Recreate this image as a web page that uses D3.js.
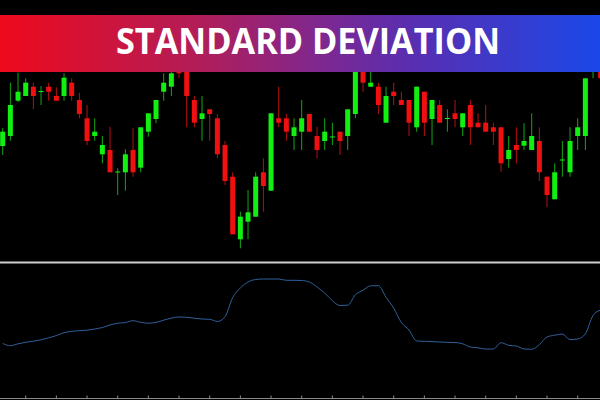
<!DOCTYPE html>
<html>
<head>
<meta charset="utf-8">
<script src="https://cdn.jsdelivr.net/npm/d3@7/dist/d3.min.js"></script>
<style>
  html, body { margin: 0; padding: 0; background: #000; }
  svg { display: block; }
</style>
</head>
<body>
<svg id="chart" width="600" height="400"></svg>
<script>
// ---- DATA ----
const title = "STANDARD DEVIATION";
const opens  = [114,124,159.3,164,173.3,168.7,173.3,164,164,177.3,160,141.7,124,105.7,110,88,87.7,110,92.3,128.3,
                141,168.3,173.3,200,195,160,141,150.7,141.7,115,83.3,20.7,38.3,43.3,87.7,69.3,141.7,141.7,124,128.3,
                146,124,119,123.3,128.3,124,146,192,173.3,173.3,137.3,168.3,160,160,132.7,168.3,141,155,141.7,146.7,
                132.7,155,137.3,137.3,132.7,132.7,101,115,114.3,110,119,83.3,60.7,100,87.7,124,124,188.3,188.3];
const highs  = [132,177.3,187.3,181.7,177.3,174,177.3,172.7,186.7,181.7,167.3,155,141.7,124,133.3,91.7,110.7,131.7,132.7,146.7,
                160,186.7,195,205,200,164,164,150.7,146,119,87.7,48.3,70,87.7,101.7,146.7,173.3,146,141.7,160,
                146,133.3,141.7,137.3,128.3,150.7,200,196,188.3,177.3,173.3,177.3,168.3,160,173.3,168.3,160,160,150.7,160,
                146.7,160,146.7,155,137.3,132.7,124,132.7,136.7,146.7,132.7,83.3,96.7,119,132.7,141.7,181.7,210,195];
const lows   = [105,119.3,158,164,150.7,155,159.3,159.3,159.3,159.3,141.7,115,119.3,96.7,87.7,65,69.3,83.3,87.7,123.3,
                136.7,159.3,164,181.7,132.7,132.7,119.3,119.3,101.7,75,25.7,11.7,20.7,43.3,48.3,69.3,132.7,119.3,110,110,
                128.3,101.7,110,115,105,110,141.7,168.3,173.3,146,137.3,155,155,124,128.3,124,115,137.3,128.3,132.7,
                124,115,132.7,128.3,115,88.3,92.3,96.7,110,110,79,52.7,60.7,83.3,83.3,110,110,181.7,178];
const closes = [128.3,155,168.3,177.3,164,169,168.3,159.3,182.3,164,146,119,128.3,115,87.7,88.5,105.7,87.7,132.7,146.7,
                160,177.3,186.7,186.7,164,137.3,146.7,146,105.7,79,25.7,43.3,47.7,83.3,74,146.7,137.3,128.3,132.7,141.7,
                128.3,110,128.3,123.5,119,150.7,195,177.3,177.3,155,164,164,155,137.3,173.3,137.3,160,137.3,142,141,
                146.7,132.7,132.7,128.3,128.3,96.7,110,110,119,124,87.7,65,87.7,100.5,119,132.7,181.7,200,181.7];
const stdDev = [54.5,52.3,54.2,55.7,56.8,58.2,60.2,62.4,65.3,66.7,67.3,67.8,69,70.5,73,74.8,75.4,77.3,75.7,74.8,
                75.6,77.8,79.9,81,80.7,79.8,79,78.7,76.5,81.3,100.5,110,116,118.5,119,119,119,117.7,117.7,117.5,
                116,111,105,97.3,92.5,92.8,103.2,107.8,112.2,112.3,100.7,89.8,75.5,68,57,56.7,56.4,56,55.7,55.5,
                54.2,51,50.2,49,49,55.3,52.7,52,49,48.7,53.4,61,62.8,64,58.4,59,64.2,82.5,88];
const tickBars = [3,7,11,15,19,23,27,31,35,39,43,47,51,55,59,63,67,71,75];

// ---- DRAWING ----
const svg = d3.select("#chart");
const W = 600, H = 400;
svg.append("rect").attr("width", W).attr("height", H).attr("fill", "#000");

const n = opens.length;
const x = d3.scaleLinear().domain([0, n - 1]).range([2.7, 600.7]);
const yP = d3.scaleLinear().domain([0, 260]).range([260, 0]);
const yS = d3.scaleLinear().domain([0, 134]).range([398, 264]);

const candles = d3.range(n).map(i => ({i, o: opens[i], h: highs[i], l: lows[i], c: closes[i]}));
const up = d => d.c >= d.o;

const main = svg.append("g");
main.selectAll("line.wick").data(candles).join("line")
  .attr("class", "wick")
  .attr("x1", d => x(d.i)).attr("x2", d => x(d.i))
  .attr("y1", d => yP(d.h)).attr("y2", d => yP(d.l))
  .attr("stroke", d => up(d) ? "#14a814" : "#b81010")
  .attr("stroke-width", 1);

main.selectAll("rect.body").data(candles).join("rect")
  .attr("class", "body")
  .attr("x", d => x(d.i) - 2.5)
  .attr("width", 5)
  .attr("y", d => yP(Math.max(d.o, d.c)))
  .attr("height", d => Math.max(1, Math.abs(yP(d.o) - yP(d.c))))
  .attr("fill", d => up(d) ? "#12f012" : "#f01010");

// separator
svg.append("line").attr("x1", 0).attr("x2", W).attr("y1", 262.5).attr("y2", 262.5)
  .attr("stroke", "#cfcfcf").attr("stroke-width", 2);

// std dev line
const line = d3.line().x((d, i) => x(i)).y(d => yS(d)).curve(d3.curveMonotoneX);
svg.append("path").datum(stdDev).attr("d", line)
  .attr("fill", "none").attr("stroke", "#30609a").attr("stroke-width", 1);

// bottom axis
const axis = d3.axisTop(x).tickValues(tickBars).tickFormat("").tickSize(3).tickSizeOuter(0);
const ag = svg.append("g").attr("transform", "translate(-0.5,398.5)").call(axis);
ag.select(".domain").attr("stroke", "#8a8a8a").attr("d", "M0.5,0H600.5");
ag.selectAll(".tick line").attr("stroke", "#8a8a8a");

// banner
const defs = svg.append("defs");
const grad = defs.append("linearGradient").attr("id", "bannerGrad")
  .attr("x1", "0%").attr("x2", "100%").attr("y1", "0%").attr("y2", "0%");
grad.append("stop").attr("offset", "0%").attr("stop-color", "#ee0a1c");
grad.append("stop").attr("offset", "33%").attr("stop-color", "#b21d58");
grad.append("stop").attr("offset", "52%").attr("stop-color", "#82278c");
grad.append("stop").attr("offset", "68%").attr("stop-color", "#5a2eb0");
grad.append("stop").attr("offset", "100%").attr("stop-color", "#1a48e8");
svg.append("rect").attr("x", 0).attr("y", 15).attr("width", W).attr("height", 57)
  .attr("fill", "url(#bannerGrad)");
svg.append("text").text(title)
  .attr("x", 308).attr("y", 54)
  .attr("text-anchor", "middle")
  .attr("font-family", "'Open Sans', 'DejaVu Sans', sans-serif")
  .attr("font-weight", 700)
  .attr("font-size", 35)
  .attr("fill", "#fff")
  .attr("textLength", 384)
  .attr("lengthAdjust", "spacingAndGlyphs");
</script>
</body>
</html>
